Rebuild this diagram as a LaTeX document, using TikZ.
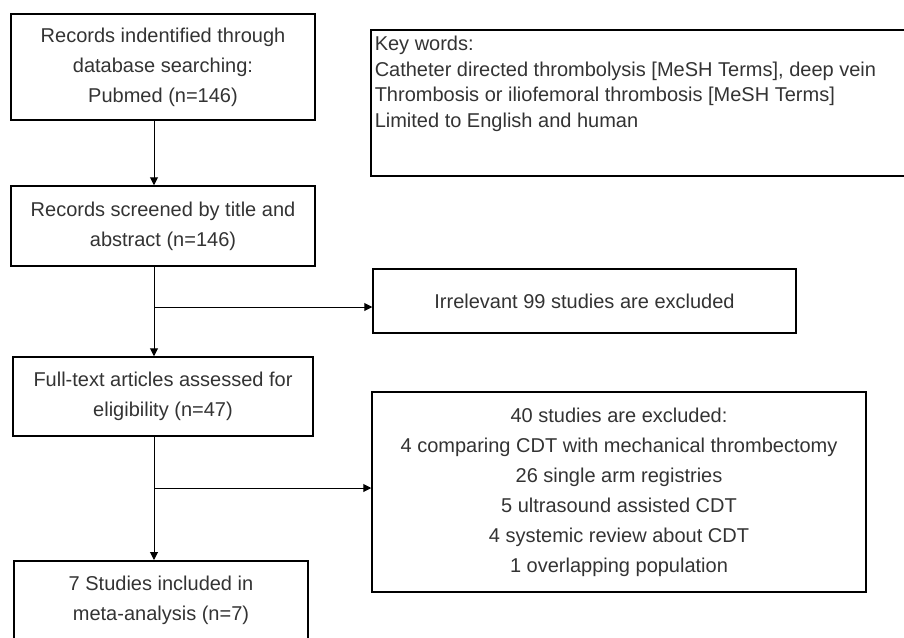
\documentclass[tikz,border=0pt]{standalone}
\usepackage{fontspec}
\setmainfont{Liberation Sans}
\usetikzlibrary{arrows.meta}
\usetikzlibrary{positioning}

\begin{document}
\begin{tikzpicture}[x=1pt, y=-1pt]

    \useasboundingbox (0,0) rectangle (904,637);
    \clip (0,0) rectangle (904,637);

    % Add or remove boxes here, use the tuple for location
    \begin{scope}[every node/.style={draw=black, rectangle, line width=1.5pt, text=black!80,
                  font=\fontsize{20pt}{30pt}\selectfont, align=center}]
    \node[minimum width=304pt, minimum height=106pt] (Rec) at (163,67) {Records indentified through\\database searching:\\Pubmed (n=146)};
    \node[minimum width=304pt, minimum height=80pt] (Scr) at (163,226) {Records screened by title and\\abstract (n=146)};
    \node[minimum width=300pt, minimum height=79pt] (Full) at (163,396.5) {Full-text articles assessed for\\eligibility (n=47)};
    \node[anchor=north, inner sep=15pt] (Incl) at (161,560) {\parbox[t][80pt][t]{264pt}{\centering 7 Studies included in\\meta-analysis (n=7)}};

    \node[anchor=north west, inner xsep=4pt, inner ysep=6.5pt] (Key) at (370,29) {\parbox[t][133pt][t]{560pt}{\raggedright\fontsize{20pt}{25.5pt}\selectfont Key words:\\Catheter directed thrombolysis [MeSH Terms], deep vein\\Thrombosis or iliofemoral thrombosis [MeSH Terms]\\Limited to English and human}};
    \node[minimum width=423pt, minimum height=64pt] (Irr) at (584.5,301) {Irrelevant 99 studies are excluded};
    \node[minimum width=494pt, minimum height=200pt] (Exc) at (619,492) {40 studies are excluded:\\4 comparing CDT with mechanical thrombectomy\\26 single arm registries\\5 ultrasound assisted CDT\\4 systemic review about CDT\\1 overlapping population};
    \end{scope}

    \coordinate (S) at (154,0);
    \coordinate (B1) at (154,307);
    \coordinate (B2) at (154,488);

    % Remove or add new arrows here
    \begin{scope}[>={Triangle[length=8pt,width=8pt]},
              every edge/.style={draw=black, line width=1pt}]
    \path [->] (Rec.south -| S) edge (Scr.north -| S);
    \path [->] (Scr.south -| S) edge (Full.north -| S);
    \path [->] (Full.south -| S) edge (Incl.north -| S);
    \path [->] (B1) edge (B1 -| Irr.west);
    \path [->] (B2) edge (B2 -| Exc.west);
    \end{scope}

\end{tikzpicture}
\end{document}
